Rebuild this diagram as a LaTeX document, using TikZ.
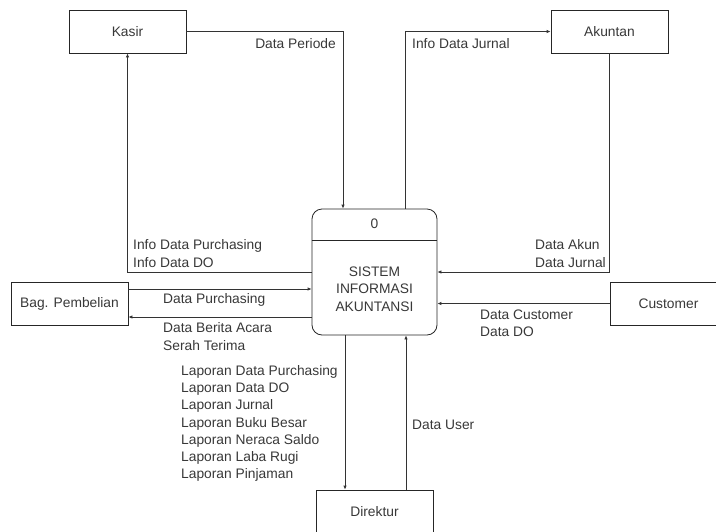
\documentclass[tikz,border=0pt]{standalone}
\usepackage{fontspec}
\setmainfont{Liberation Sans}
\usetikzlibrary{arrows.meta,calc}
\begin{document}
\begin{tikzpicture}[x=1pt,y=-1pt,
  every node/.style={text=black!78},
  ent/.style={draw=black!85,line width=0.8pt,minimum width=117pt,minimum height=43pt,inner sep=0pt},
  flow/.style={draw=black!80,line width=0.8pt,-{Latex[length=4pt,width=3.5pt]}},
  lbl/.style={inner sep=0pt,align=left},
  font=\fontsize{13.8}{17.3}\selectfont]
\useasboundingbox (0,0) rectangle (716,531);
\node[ent] (kasir) at (127.5,31.5) {Kasir};
\node[ent] (akuntan) at (609.5,31.5) {Akuntan};
\node[ent] (bag) at (69.5,303.5) {Bag. Pembelian};
\node[ent] (cust) at (668.5,303.5) {Customer};
\node[ent] (dir) at (374.5,511.5) {Direktur};
\node[draw=black!85,line width=0.8pt,rounded corners=10pt,minimum width=125pt,minimum height=126pt] (p) at (374.5,272) {};
\draw[draw=black!85,line width=0.8pt] ($(p.north west)+(0,32)$) -- ($(p.north east)+(0,32)$);
\node[inner sep=0pt] (pnum) at (374.5,224) {0};
\node[inner sep=0pt,align=center] (ptxt) at (374.5,289) {SISTEM\\INFORMASI\\AKUNTANSI};
% connectors
\draw[flow] (kasir.east) -| ([xshift=-31.5pt]p.north);
\draw[flow] ([xshift=30.5pt]p.north) |- (akuntan.west);
\draw[flow] (akuntan.south) |- (p.east);
\draw[flow] (p.west) -| (kasir.south);
\coordinate (b1) at ([yshift=14.5pt]bag.east);
\coordinate (b2) at ([yshift=-13.5pt]bag.east);
\draw[flow] (b1) -- (b1 -| p.west);
\draw[flow] (b2 -| p.west) -- (b2);
\draw[flow] (cust.west) -- (cust.west -| p.east);
\coordinate (d1) at ([xshift=-29.5pt]p.south);
\coordinate (d2) at ([xshift=31.5pt]dir.north);
\draw[flow] (d1) -- (d1 |- dir.north);
\draw[flow] (d2) -- (d2 |- p.south);
% labels
\node[lbl,anchor=east] (l1) at (336,44) {Data Periode};
\node[lbl,anchor=west] (l2) at (412,44) {Info Data Jurnal};
\node[lbl,anchor=west] (l3) at (133,253.5) {Info Data Purchasing\\Info Data DO};
\node[lbl,anchor=west] (l4) at (535,253.5) {Data Akun\\Data Jurnal};
\node[lbl,anchor=west] (l5) at (163,300) {Data Purchasing};
\node[lbl,anchor=west] (l6) at (163,336.5) {Data Berita Acara\\Serah Terima};
\node[lbl,anchor=west] (l7) at (480,323.5) {Data Customer\\Data DO};
\node[lbl,anchor=west] (l8) at (181,423.5) {Laporan Data Purchasing\\Laporan Data DO\\Laporan Jurnal\\Laporan Buku Besar\\Laporan Neraca Saldo\\Laporan Laba Rugi\\Laporan Pinjaman};
\node[lbl,anchor=west] (l9) at (412,425) {Data User};
\end{tikzpicture}
\end{document}
